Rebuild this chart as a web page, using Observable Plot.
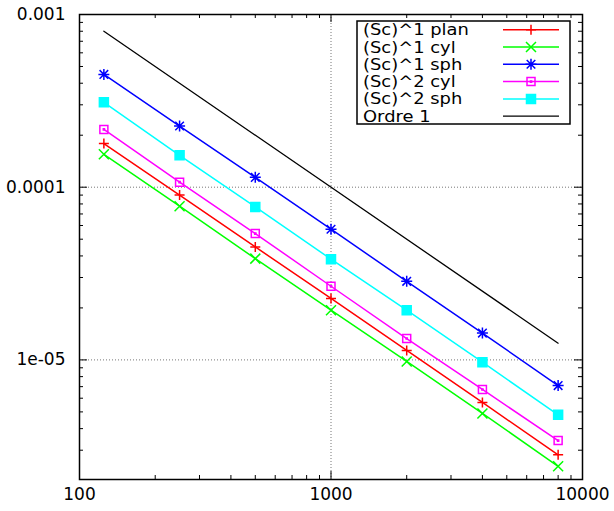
<!DOCTYPE html>
<html><head><meta charset="utf-8">
<script src="https://cdn.jsdelivr.net/npm/d3@7"></script>
<script src="https://cdn.jsdelivr.net/npm/@observablehq/plot@0.6"></script>
<style>body{margin:0;background:#fff}#chart svg{background:#fff}</style>
</head><body><div id="chart"></div>
<script>
// ---- data ----
const xs = [125, 250, 500, 1000, 2000, 4000, 8000];
const plan1 = [1.79e-4, 9.0e-5, 4.51e-5, 2.27e-5, 1.135e-5, 5.67e-6, 2.82e-6];
const cyl1  = [1.55e-4, 7.76e-5, 3.86e-5, 1.94e-5, 9.8e-6, 4.9e-6, 2.42e-6];
const sph1  = [4.5e-4, 2.26e-4, 1.14e-4, 5.71e-5, 2.85e-5, 1.43e-5, 7.1e-6];
const cyl2  = [2.16e-4, 1.07e-4, 5.39e-5, 2.67e-5, 1.33e-5, 6.74e-6, 3.41e-6];
const sph2  = [3.10e-4, 1.53e-4, 7.69e-5, 3.83e-5, 1.94e-5, 9.7e-6, 4.81e-6];
const ordreX = [125, 8000];
const ordre1 = [8e-4, 1.25e-5];
const seriesNames = ["(Sc)^1 plan", "(Sc)^1 cyl", "(Sc)^1 sph", "(Sc)^2 cyl", "(Sc)^2 sph", "Ordre 1"];
const seriesColors = ["#ff0000", "#00ff00", "#0000ff", "#ff00ff", "#00ffff", "#000000"];
const xTickValues = [100, 1000, 10000];
const xTickLabels = ["100", "1000", "10000"];
const yTickValues = [1e-3, 1e-4, 1e-5];
const yTickLabels = ["0.001", "0.0001", "1e-05"];

// ---- layout ----
const W = 614, H = 511, mL = 79, mR = 32, mT = 14, mB = 32;
const pw = W - mL - mR, ph = H - mT - mB;

// gnuplot-like symbols (r = half size)
const hs = s => Math.sqrt(s / Math.PI);
const symPlus = {draw(c, s) { const r = hs(s); c.moveTo(-r, 0); c.lineTo(r, 0); c.moveTo(0, -r); c.lineTo(0, r); }};
const symTimes = {draw(c, s) { const r = hs(s); c.moveTo(-r, -r); c.lineTo(r, r); c.moveTo(-r, r); c.lineTo(r, -r); }};
const symStar = {draw(c, s) { const r = hs(s); const d = r * 0.78; c.moveTo(-r, 0); c.lineTo(r, 0); c.moveTo(0, -r); c.lineTo(0, r);
  c.moveTo(-d, -d); c.lineTo(d, d); c.moveTo(-d, d); c.lineTo(d, -d); }};
const symBox = {draw(c, s) { const r = hs(s); c.moveTo(-r, -r); c.lineTo(r, -r); c.lineTo(r, r); c.lineTo(-r, r); c.closePath();
  c.moveTo(-0.6, -0.6); c.lineTo(0.6, -0.6); c.lineTo(0.6, 0.6); c.lineTo(-0.6, 0.6); c.closePath(); }};
const symFBox = {draw(c, s) { const r = hs(s); c.moveTo(-r, -r); c.lineTo(r, -r); c.lineTo(r, r); c.lineTo(-r, r); c.closePath(); }};

const series = [
  {vals: plan1, sym: symPlus, r: 5, fill: "none"},
  {vals: cyl1, sym: symTimes, r: 5, fill: "none"},
  {vals: sph1, sym: symStar, r: 5.5, fill: "none"},
  {vals: cyl2, sym: symBox, r: 4, fill: "none"},
  {vals: sph2, sym: symFBox, r: 4.5, fill: "cyan"}
];

// ticks
const xMinor = [], yMinor = [];
for (const d of [100, 1000]) for (let k = 2; k <= 9; k++) xMinor.push(k * d);
for (const d of [1e-6, 1e-5, 1e-4]) for (let k = 2; k <= 9; k++) if (k * d >= 2.03e-6) yMinor.push(k * d);

const marks = [
  Plot.gridX([1000], {stroke: "#777", strokeOpacity: 1, strokeWidth: 1, strokeDasharray: "1,2"}),
  Plot.gridY([1e-4, 1e-5], {stroke: "#777", strokeOpacity: 1, strokeWidth: 1, strokeDasharray: "1,2"}),
  // ticks: left/right/top/bottom, inward
  Plot.ruleY(yTickValues, {insetRight: pw - 8, stroke: "black", strokeWidth: 1}),
  Plot.ruleY(yTickValues, {insetLeft: pw - 8, stroke: "black", strokeWidth: 1}),
  Plot.ruleY(yMinor, {insetRight: pw - 4, stroke: "black", strokeWidth: 1}),
  Plot.ruleY(yMinor, {insetLeft: pw - 4, stroke: "black", strokeWidth: 1}),
  Plot.ruleX(xTickValues, {insetTop: ph - 8, stroke: "black", strokeWidth: 1}),
  Plot.ruleX(xTickValues, {insetBottom: ph - 8, stroke: "black", strokeWidth: 1}),
  Plot.ruleX(xMinor, {insetTop: ph - 4, stroke: "black", strokeWidth: 1}),
  Plot.ruleX(xMinor, {insetBottom: ph - 4, stroke: "black", strokeWidth: 1}),
  Plot.axisX(xTickValues, {tickSize: 0, tickPadding: 8, fontSize: 17, label: null, tickFormat: (d) => xTickLabels[xTickValues.indexOf(d)]}),
  Plot.axisY(yTickValues, {tickSize: 0, tickPadding: 14, fontSize: 17, label: null, tickFormat: (d) => yTickLabels[yTickValues.indexOf(d)]}),
  Plot.line(ordreX.map((x, i) => ({x, y: ordre1[i]})), {x: "x", y: "y", stroke: seriesColors[5], strokeWidth: 1.3}),
];
series.forEach((s, k) => {
  const data = xs.map((x, i) => ({x, y: s.vals[i]}));
  marks.push(Plot.line(data, {x: "x", y: "y", stroke: seriesColors[k], strokeWidth: 1.5}));
  marks.push(Plot.dot(data, {x: "x", y: "y", symbol: s.sym, r: s.r, stroke: seriesColors[k], fill: s.fill === "none" ? "none" : seriesColors[k], strokeWidth: 1.5}));
});
marks.push(Plot.frame({stroke: "black", strokeWidth: 1.5}));

const chart = Plot.plot({
  width: W, height: H,
  marginLeft: mL, marginRight: mR, marginTop: mT, marginBottom: mB,
  style: {fontFamily: "DejaVu Sans", fontSize: "16px", background: "white", color: "black"},
  x: {type: "log", domain: [100, 10000], label: null},
  y: {type: "log", domain: [2.03e-6, 1e-3], label: null},
  marks
});
document.getElementById("chart").appendChild(chart);

// legend box
const svg = d3.select(chart);
const lg = svg.append("g");
lg.append("rect").attr("x", 357).attr("y", 21).attr("width", 213).attr("height", 103)
  .attr("fill", "white").attr("stroke", "black").attr("stroke-width", 1.5);
seriesNames.forEach((name, k) => {
  const cy = 29.7 + k * 17.3;
  lg.append("text").attr("transform", `translate(363,${cy + 5.5}) scale(1.12,1)`)
    .attr("font-family", "DejaVu Sans").attr("font-size", 16)
    .attr("text-anchor", "start").attr("fill", "black").text(name);
  lg.append("line").attr("x1", 503).attr("x2", 559).attr("y1", cy).attr("y2", cy)
    .attr("stroke", seriesColors[k]).attr("stroke-width", k === 5 ? 1.3 : 1.5);
  if (k < 5) {
    const s = series[k];
    lg.append("path").attr("transform", `translate(531,${cy})`)
      .attr("d", d3.symbol().type(s.sym).size(Math.PI * s.r * s.r)())
      .attr("stroke", seriesColors[k]).attr("stroke-width", 1.5)
      .attr("fill", s.fill === "none" ? "none" : seriesColors[k]);
  }
});
</script></body></html>
